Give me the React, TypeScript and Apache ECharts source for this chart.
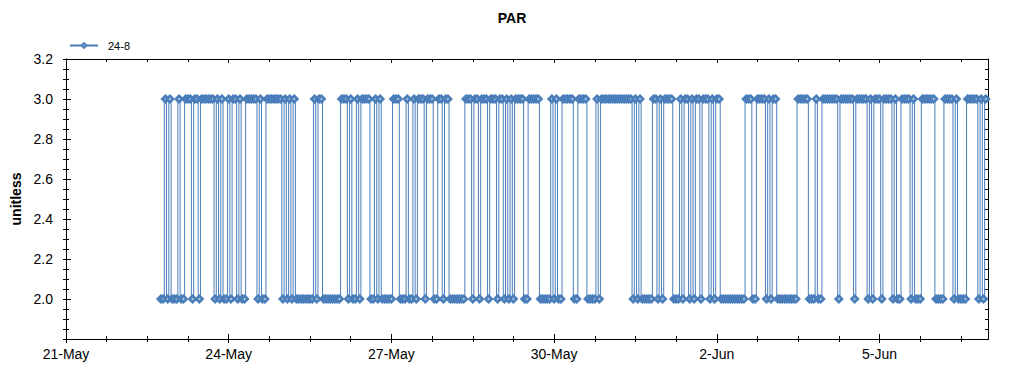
import { useEffect, useRef } from 'react';
import * as echarts from 'echarts';

const chartTitle = 'PAR';
const seriesName = '24-8';
const yAxisName = 'unitless';

// x axis is in hours since 21-May 00:00; the axis ends at 7-Jun 00:00
const xMaxHours = 408;
const majorHours = [0, 72, 144, 216, 288, 360];
const dateLabels = ['21-May', '24-May', '27-May', '30-May', '2-Jun', '5-Jun'];
const yMin = 1.8;
const yMax = 3.2;
const yStep = 0.2;

// hourly readings, first one at 22-May 18:00 (hour 42); [value, number of consecutive hours]
const firstHour = 42;
const parRuns: [number, number][] = [
  [2, 2], [3, 1], [2, 1], [3, 1], [2, 3], [3, 1], [2, 2], [3, 3], [2, 1], [3, 2],
  [2, 1], [3, 6], [2, 1], [3, 1], [2, 1], [3, 1], [2, 2], [3, 1], [2, 1], [3, 2],
  [2, 1], [3, 1], [2, 2], [3, 5], [2, 1], [3, 1], [2, 2], [3, 7], [2, 1], [3, 1],
  [2, 1], [3, 1], [2, 1], [3, 1], [2, 8], [3, 1], [2, 1], [3, 2], [2, 8], [3, 3],
  [2, 1], [3, 1], [2, 2], [3, 1], [2, 1], [3, 4], [2, 2], [3, 1], [2, 1], [3, 1],
  [2, 5], [3, 3], [2, 3], [3, 1], [2, 2], [3, 1], [2, 1], [3, 3], [2, 1], [3, 3],
  [2, 2], [3, 2], [2, 1], [3, 2], [2, 7], [3, 3], [2, 1], [3, 2], [2, 1], [3, 3],
  [2, 1], [3, 3], [2, 1], [3, 2], [2, 1], [3, 1], [2, 1], [3, 1], [2, 1], [3, 4],
  [2, 2], [3, 5], [2, 5], [3, 1], [2, 1], [3, 1], [2, 2], [3, 5], [2, 2], [3, 4],
  [2, 4], [3, 1], [2, 1], [3, 14], [2, 1], [3, 1], [2, 1], [3, 1], [2, 5], [3, 2],
  [2, 1], [3, 1], [2, 1], [3, 4], [2, 3], [3, 1], [2, 1], [3, 2], [2, 1], [3, 1],
  [2, 1], [3, 2], [2, 1], [3, 3], [2, 1], [3, 1], [2, 1], [3, 2], [2, 11], [3, 3],
  [2, 2], [3, 4], [2, 1], [3, 1], [2, 1], [3, 2], [2, 9], [3, 5], [2, 3], [3, 1],
  [2, 2], [3, 7], [2, 1], [3, 6], [2, 1], [3, 5], [2, 1], [3, 1], [2, 1], [3, 3],
  [2, 1], [3, 4], [2, 1], [3, 1], [2, 2], [3, 4], [2, 1], [3, 1], [2, 3], [3, 6],
  [2, 4], [3, 4], [2, 1], [3, 1], [2, 4], [3, 5], [2, 1], [3, 1], [2, 1], [3, 1],
];

const FONT = '"Liberation Sans", Arial, sans-serif';
const LINE_COLOR = '#4a7ebb';
const MARKER_FILL = '#b3c6d9';

export default function App() {
  const ref = useRef<HTMLDivElement>(null);

  useEffect(() => {
    if (!ref.current) return;
    const chart = echarts.init(ref.current, null, { renderer: 'svg' });

    const data: [number, number][] = [];
    let h = firstHour;
    for (const [v, n] of parRuns) {
      for (let i = 0; i < n; i++) data.push([h++, v]);
    }

    const minorHours: number[] = [];
    for (const m of majorHours) {
      for (const d of [18, 36, 54]) if (m + d < xMaxHours) minorHours.push(m + d);
    }

    const black = { color: '#000', width: 1 };
    const xBase = (position: 'top' | 'bottom', tickValues: number[], inside: boolean, len: number, labels: boolean) => ({
      type: 'value',
      position,
      min: 0,
      max: xMaxHours,
      interval: 72,
      splitLine: { show: false },
      axisLine: { show: true, onZero: false, lineStyle: black },
      axisTick: { show: true, inside, length: len, customValues: tickValues, lineStyle: black },
      minorTick: { show: false },
      axisLabel: labels
        ? {
            show: true,
            customValues: majorHours,
            margin: 8,
            color: '#000',
            fontFamily: FONT,
            fontSize: 14,
            formatter: (v: number) => {
              const i = majorHours.indexOf(Math.round(v));
              return i >= 0 ? dateLabels[i] : '';
            },
          }
        : { show: false },
    });

    const yBase = (position: 'left' | 'right', inside: boolean, len: number, minorLen: number, labels: boolean, name?: string) => ({
      type: 'value',
      position,
      min: yMin,
      max: yMax,
      interval: yStep,
      name,
      nameLocation: 'middle',
      nameGap: 38,
      nameTextStyle: { fontFamily: FONT, fontSize: 14, fontWeight: 'bold', color: '#000' },
      splitLine: { show: false },
      axisLine: { show: true, onZero: false, lineStyle: black },
      axisTick: { show: true, inside, length: len, lineStyle: black },
      minorTick: { show: true, splitNumber: 4, length: minorLen, lineStyle: black },
      axisLabel: labels
        ? {
            show: true,
            margin: 13,
            color: '#000',
            fontFamily: FONT,
            fontSize: 14,
            formatter: (v: number) => (v < 1.9 ? '' : v.toFixed(1)),
          }
        : { show: false },
    });

    const option: any = {
      animation: false,
      backgroundColor: '#fff',
      textStyle: { fontFamily: FONT },
      title: {
        text: chartTitle,
        left: 'center',
        top: 11,
        padding: 0,
        textStyle: { fontFamily: FONT, fontSize: 14, fontWeight: 'bold', color: '#000' },
      },
      legend: {
        data: [seriesName],
        left: 69,
        top: 40,
        padding: 0,
        itemWidth: 28,
        itemHeight: 6,
        textStyle: { fontFamily: FONT, fontSize: 11, color: '#000', padding: [0, 0, 0, 5] },
      },
      grid: { left: 66, right: 36, top: 59, bottom: 36, containLabel: false },
      xAxis: [
        xBase('bottom', majorHours, false, 4, true),
        xBase('bottom', majorHours, true, 5, false),
        xBase('bottom', minorHours, false, 3, false),
        xBase('bottom', minorHours, true, 3, false),
        xBase('top', majorHours, true, 4, false),
        xBase('top', minorHours, true, 3, false),
      ],
      yAxis: [
        yBase('left', false, 3, 3, true, yAxisName),
        yBase('left', true, 5, 3, false),
        yBase('right', true, 4, 3, false),
      ],
      series: [
        {
          name: seriesName,
          type: 'line',
          xAxisIndex: 0,
          yAxisIndex: 0,
          data,
          step: 'middle',
          showSymbol: true,
          symbol: 'diamond',
          symbolSize: 6.5,
          lineStyle: { color: LINE_COLOR, width: 1 },
          itemStyle: { color: MARKER_FILL, borderColor: LINE_COLOR, borderWidth: 2.5 },
          emphasis: { disabled: true },
        },
      ],
    };

    chart.setOption(option);
    return () => chart.dispose();
  }, []);

  return <div ref={ref} style={{ position: 'absolute', left: 0, top: 0, width: 1024, height: 375 }} />;
}
